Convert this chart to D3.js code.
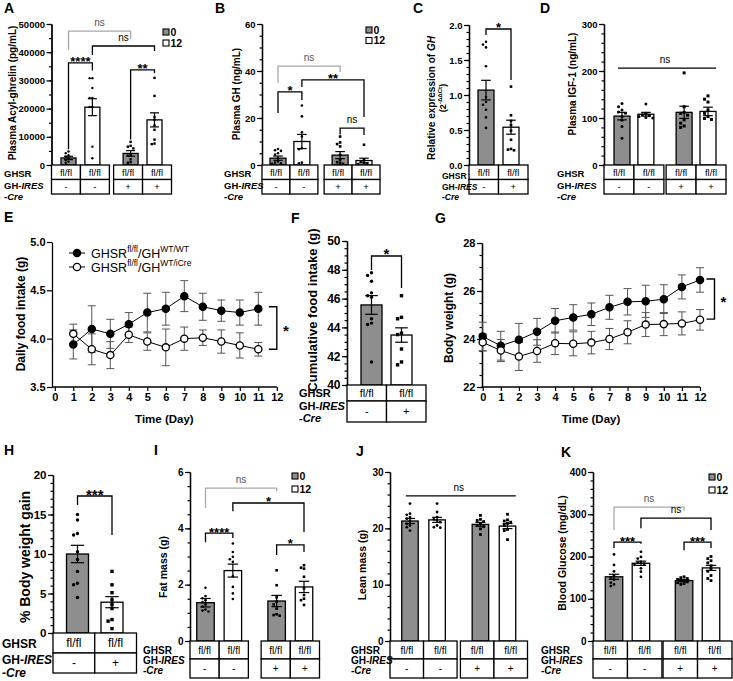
<!DOCTYPE html>
<html><head><meta charset="utf-8">
<script src="https://cdn.jsdelivr.net/npm/d3@7/dist/d3.min.js"></script>
<style>
html,body{margin:0;padding:0;background:#fff;}
svg{display:block;}
text{font-family:"Liberation Sans",Arial,Helvetica,sans-serif;fill:#000;}
</style></head>
<body>
<svg id="fig" width="733" height="681" viewBox="0 0 733 681"></svg>
<script>
// ======================= DATA =======================
const ghsrCells4 = ["fl/fl", "fl/fl", "fl/fl", "fl/fl"];
const creCells4 = ["-", "-", "+", "+"];
const ghsrCells2 = ["fl/fl", "fl/fl"];
const creCells2 = ["-", "+"];
const weekLegend = ["0", "12"];

// A: plasma acyl-ghrelin (pg/mL)
const acylMean = [2500, 20500, 4100, 16000];
const acylSem = [600, 3000, 1000, 2500];
const acylPts = [
  [4800, 4200, 3500, 2900, 2400, 1800, 1200, 800],
  [30800, 30800, 27300, 23800, 23800, 20600, 20600, 6500, 2400],
  [8200, 6800, 6500, 5900, 3500, 3300, 2000, 1000, 800],
  [30900, 24500, 17000, 16000, 14000, 12500, 9000, 7600, 7400]
];
// B: plasma GH (ng/mL)
const ghMean = [2.9, 10.0, 4.2, 1.9];
const ghSem = [0.9, 3.0, 1.5, 1.0];
const ghPts = [
  [6.8, 6.3, 6.0, 5.0, 4.4, 2.9, 1.5, 1.0, 0.7, 0.5],
  [25.3, 20.7, 13.9, 12.1, 7.1, 6.7, 1.0, 0.7],
  [12.1, 9.6, 8.9, 7.9, 4.3, 2.0, 1.2, 0.7, 0.5],
  [8.6, 2.4, 1.4, 1.0, 0.7, 0.4]
];
// C: relative GH expression
const exprMean = [1.07, 0.54];
const exprSem = [0.14, 0.10];
const exprPts = [
  [1.76, 1.72, 1.68, 1.41, 0.97, 0.90, 0.86, 0.79, 0.68, 0.53],
  [1.12, 0.71, 0.63, 0.57, 0.49, 0.36, 0.23, 0.22, 0.21]
];
// D: plasma IGF-1 (ng/mL)
const igfMean = [104, 108, 112, 114];
const igfSem = [8, 4, 13, 9];
const igfPts = [
  [131, 124, 117, 113, 110, 103, 95, 82, 57],
  [130, 110, 107, 105, 103, 101, 100],
  [196, 124, 112, 110, 106, 96, 89, 83, 80],
  [147, 140, 134, 117, 110, 103, 99, 97]
];
// E: daily food intake (g)
const foodDays = [1, 2, 3, 4, 5, 6, 7, 8, 9, 10, 11];
const foodWT = [3.94, 4.10, 4.05, 4.15, 4.27, 4.31, 4.44, 4.33, 4.29, 4.27, 4.31];
const foodWTsem = [0.15, 0.24, 0.15, 0.12, 0.20, 0.17, 0.16, 0.14, 0.11, 0.13, 0.17];
const foodCre = [4.05, 3.89, 3.83, 4.04, 3.97, 3.91, 4.00, 4.01, 3.97, 3.93, 3.89];
const foodCreSem = [0.10, 0.16, 0.14, 0.08, 0.09, 0.19, 0.12, 0.08, 0.12, 0.13, 0.07];
const dayTicks = [0, 1, 2, 3, 4, 5, 6, 7, 8, 9, 10, 11, 12];
// F: cumulative food intake (g)
const cumMean = [45.56, 43.47];
const cumSem = [0.65, 0.50];
const cumPts = [
  [47.8, 47.6, 47.2, 46.4, 46.2, 46.1, 44.6, 44.3, 44.2, 41.6],
  [46.2, 44.7, 44.6, 43.6, 43.5, 42.5, 41.6, 41.4]
];
// G: body weight (g)
const bwDays = [0, 1, 2, 3, 4, 5, 6, 7, 8, 9, 10, 11, 12];
const bwWT = [24.10, 23.72, 23.97, 24.30, 24.76, 24.90, 25.03, 25.32, 25.55, 25.57, 25.66, 26.17, 26.46];
const bwWTsem = [0.60, 0.60, 0.68, 0.56, 0.51, 0.53, 0.47, 0.50, 0.55, 0.67, 0.60, 0.50, 0.51];
const bwCre = [23.86, 23.52, 23.27, 23.50, 23.82, 23.80, 23.85, 24.00, 24.28, 24.60, 24.62, 24.65, 24.80];
const bwCreSem = [0.35, 0.46, 0.58, 0.47, 0.47, 0.50, 0.47, 0.44, 0.48, 0.50, 0.48, 0.48, 0.43];
// H: % body weight gain
const gainMean = [10.0, 3.9];
const gainSem = [1.1, 0.7];
const gainPts = [
  [15.0, 14.3, 12.6, 12.4, 10.3, 9.3, 7.8, 6.3, 6.1, 4.5],
  [7.8, 6.1, 5.1, 4.2, 3.6, 3.1, 1.7, 1.5, 0.55]
];
// I: fat mass (g)
const fatMean = [1.36, 2.50, 1.42, 1.92];
const fatSem = [0.15, 0.23, 0.20, 0.20];
const fatPts = [
  [1.89, 1.60, 1.52, 1.45, 1.38, 1.30, 1.22, 1.12, 1.08, 1.05],
  [3.46, 3.16, 2.99, 2.90, 2.81, 2.30, 1.92, 1.69, 1.49],
  [2.51, 1.98, 1.55, 1.40, 1.30, 1.15, 0.95, 0.92, 0.90],
  [2.69, 2.60, 2.57, 2.28, 1.87, 1.63, 1.50, 1.45, 1.28]
];
// J: lean mass (g)
const leanMean = [21.3, 21.5, 20.7, 20.4];
const leanSem = [0.45, 0.45, 0.35, 0.45];
const leanPts = [
  [24.4, 22.6, 22.4, 22.0, 21.7, 21.3, 20.8, 20.5, 20.2, 19.6],
  [24.4, 22.9, 22.0, 21.6, 21.4, 21.1, 20.5, 20.2, 20.1],
  [22.3, 21.6, 21.4, 21.2, 20.8, 20.5, 20.3, 19.9, 18.9],
  [22.5, 21.5, 21.3, 21.1, 20.9, 20.5, 19.8, 19.6, 18.0]
];
// K: blood glucose (mg/dL)
const gluMean = [152, 184, 143, 173];
const gluSem = [6, 5, 2.5, 6];
const gluPts = [
  [205, 180, 165, 155, 150, 145, 138, 134, 130],
  [211, 199, 195, 187, 185, 183, 180, 172, 164, 152],
  [152, 150, 148, 146, 144, 142, 140, 138, 136, 134],
  [200, 195, 190, 185, 178, 170, 165, 155, 148, 143]
];

// ======================= DRAWING =======================
const svg = d3.select("#fig");
const GRAY = "#8e8e8e";
const LGRAY = "#a8a8a8";

function rich(x, y, parts, o = {}) {
  const fs = o.fs || 10;
  const t = svg.append("text").attr("x", x).attr("y", y).attr("font-size", fs)
    .attr("text-anchor", o.anchor || "start");
  if (o.bold) t.attr("font-weight", "bold");
  if (o.fill) t.style("fill", o.fill);
  if (o.rotate) t.attr("transform", `rotate(-90,${x},${y})`);
  let shift = 0;
  parts.forEach(p => {
    const s = t.append("tspan").text(p.t);
    if (p.i) s.attr("font-style", "italic");
    const want = p.sup ? -fs * 0.42 : 0;
    if (want !== shift) { s.attr("dy", want - shift); shift = want; }
    if (p.sup) s.attr("font-size", fs * 0.68);
  });
  return t;
}
function txt(x, y, s, o = {}) { return rich(x, y, [{ t: s }], o); }

function styleAxis(g, fs) {
  g.selectAll("path.domain").attr("stroke", "#000").attr("stroke-width", 1.3);
  g.selectAll(".tick line").attr("stroke", "#000").attr("stroke-width", 1.2);
  g.selectAll(".tick text").attr("font-size", fs).attr("font-weight", "bold")
    .attr("font-family", '"Liberation Sans",Arial,sans-serif').style("fill", "#000");
  return g;
}

function yAxis(x, ys, domain, major, minor, fmt, fs) {
  const eps = 1e-9;
  if (minor) {
    const mv = d3.range(domain[0], domain[1] + eps, minor);
    styleAxis(svg.append("g").attr("transform", `translate(${x},0)`)
      .call(d3.axisLeft(ys).tickValues(mv).tickSize(2.5).tickSizeOuter(0).tickFormat("")), fs);
  }
  const Mv = d3.range(domain[0], domain[1] + major * 0.01, major);
  styleAxis(svg.append("g").attr("transform", `translate(${x},0)`)
    .call(d3.axisLeft(ys).tickValues(Mv).tickSize(5).tickSizeOuter(0).tickPadding(1.5).tickFormat(fmt)), fs);
}

function swarm(vals, ys, cx, r) {
  const placed = [];
  const offs = [0, -1, 1, -2, 2, -3, 3];
  return vals.map(v => {
    const y = ys(v);
    for (const o of offs) {
      const x = cx + o * r * 2.3;
      if (!placed.some(p => Math.hypot(p.x - x, p.y - y) < r * 2.2)) { placed.push({ x, y }); return { x, y }; }
    }
    placed.push({ x: cx, y }); return { x: cx, y };
  });
}

function barPanel(P) {
  const n = P.means.length;
  const ys = d3.scaleLinear().domain(P.domain).range([P.bottom, P.top]);
  const xs = d3.scaleLinear().domain([P.slots[0], P.slots[n - 1]]).range([P.c0, P.c1]);
  const cx = i => xs(P.slots[i]);
  const fills = n === 4 ? [GRAY, "#fff", GRAY, "#fff"] : [GRAY, "#fff"];
  const shapes = n === 4 ? ["c", "c", "s", "s"] : ["c", "s"];

  // bars
  svg.append("g").selectAll("rect").data(P.means).join("rect")
    .attr("x", (d, i) => cx(i) - P.bw / 2).attr("y", d => ys(d))
    .attr("width", P.bw).attr("height", d => ys(P.domain[0]) - ys(d))
    .attr("fill", (d, i) => fills[i]).attr("stroke", "#000").attr("stroke-width", 1.3);

  // points
  P.pts.forEach((arr, i) => {
    const pos = swarm(arr, ys, cx(i), P.ms);
    const g = svg.append("g");
    if (shapes[i] === "c") {
      g.selectAll("circle").data(pos).join("circle").attr("cx", d => d.x).attr("cy", d => d.y)
        .attr("r", P.ms).attr("fill", "#000");
    } else {
      g.selectAll("rect").data(pos).join("rect").attr("x", d => d.x - P.ms).attr("y", d => d.y - P.ms)
        .attr("width", P.ms * 2).attr("height", P.ms * 2).attr("fill", "#000");
    }
  });

  // error bars
  const eg = svg.append("g").attr("stroke", "#000").attr("stroke-width", 1.2);
  P.means.forEach((m, i) => {
    const s = P.sems[i], x = cx(i), cw = P.bw * 0.3;
    eg.append("line").attr("x1", x).attr("x2", x).attr("y1", ys(m - s)).attr("y2", ys(m + s));
    [m - s, m + s].forEach(v => eg.append("line").attr("x1", x - cw).attr("x2", x + cw).attr("y1", ys(v)).attr("y2", ys(v)));
  });

  // axis (drawn over bar bottoms)
  yAxis(P.axisX, ys, P.domain, P.major, P.minor, P.fmt, P.fs);

  // brackets
  (P.brackets || []).forEach(b => {
    const col = b.gray ? LGRAY : "#000";
    if (b.flat) {
      svg.append("line").attr("x1", cx(b.a) - P.bw / 4).attr("x2", cx(b.b) + P.bw / 2)
        .attr("y1", ys(b.y)).attr("y2", ys(b.y)).attr("stroke", col).attr("stroke-width", 1.3);
    } else {
      svg.append("path").attr("d", `M${cx(b.a)},${ys(b.la)}V${ys(b.y)}H${cx(b.b)}V${ys(b.lb)}`)
        .attr("fill", "none").attr("stroke", col).attr("stroke-width", 1.3);
    }
    const mx = (cx(b.a) + cx(b.b)) / 2;
    if (b.t === "ns") txt(mx, ys(b.y) - 5, "ns", { fs: P.nsFs || 10, anchor: "middle", fill: b.gray ? "#555" : "#000" });
    else txt(mx, ys(b.y) + 3.5, b.t, { fs: P.starFs || 13, anchor: "middle", bold: true });
  });

  // legend
  if (P.legend) {
    const L = P.legend;
    weekLegend.forEach((w, k) => {
      svg.append("rect").attr("x", L.x).attr("y", L.y + k * L.dy).attr("width", 6).attr("height", 6)
        .attr("fill", k === 0 ? GRAY : "#fff").attr("stroke", "#000").attr("stroke-width", 1.1);
      txt(L.x + 7.5, L.y + k * L.dy + 6.5, w, { fs: 10.5, bold: true });
    });
  }

  // table
  const T = P.table, y0 = P.bottom, y1 = y0 + T.h1;
  let cells;
  if (n === 4) {
    const m1 = (cx(0) + cx(1)) / 2, m2 = (cx(2) + cx(3)) / 2, W = 2 * (m1 - P.axisX);
    const g1 = [m1 - W / 2, m1 + W / 2], g2 = [m2 - W / 2, m2 + W / 2];
    cells = [[g1[0], m1], [m1, g1[1]], [g2[0], m2], [m2, g2[1]]];
  } else {
    const mid = (cx(0) + cx(1)) / 2;
    cells = [[P.axisX, mid], [mid, 2 * mid - P.axisX]];
  }
  const gh = n === 4 ? ghsrCells4 : ghsrCells2, cr = n === 4 ? creCells4 : creCells2;
  const tg = svg.append("g").attr("fill", "#fff").attr("stroke", "#000").attr("stroke-width", 1.3);
  cells.forEach((c, i) => {
    tg.append("rect").attr("x", c[0]).attr("y", y0).attr("width", c[1] - c[0]).attr("height", T.h1);
    tg.append("rect").attr("x", c[0]).attr("y", y1).attr("width", c[1] - c[0]).attr("height", T.h2);
    txt((c[0] + c[1]) / 2, y0 + T.h1 / 2 + T.cfs * 0.36, gh[i], { fs: T.cfs, anchor: "middle" });
    txt((c[0] + c[1]) / 2, y1 + T.h2 / 2 + T.cfs * 0.36, cr[i], { fs: T.cfs, anchor: "middle" });
  });
  txt(T.lx, y0 + T.h1 / 2 + T.lfs * (T.gs || 0.4), "GHSR", { fs: T.lfs, bold: true });
  rich(T.lx, y1 + T.gy, [{ t: "GH-" }, { t: "IRES", i: true }], { fs: T.lfs, bold: true });
  rich(T.lx, y1 + T.cy, [{ t: "-Cre", i: true }], { fs: T.lfs, bold: true });

  // y label
  P.ylab.forEach(l => rich(l.x, l.y, l.parts, { fs: l.fs, bold: true, anchor: "middle", rotate: true }));
  // panel letter
  txt(P.letter[1], P.letter[2], P.letter[0], { fs: 14, bold: true });
}

function linePanel(P) {
  const xs = d3.scaleLinear().domain([0, 12]).range([P.x0, P.x1]);
  const ys = d3.scaleLinear().domain(P.domain).range([P.bottom, P.top]);
  yAxis(P.axisX, ys, P.domain, P.major, P.minor, P.fmt, P.fs);
  const xg = svg.append("g").attr("transform", `translate(0,${P.bottom})`)
    .call(d3.axisBottom(xs).tickValues(dayTicks).tickSize(4).tickSizeOuter(0).tickPadding(2).tickFormat(d3.format("d")));
  styleAxis(xg, P.fs);
  xg.select("path.domain").attr("d", `M${P.axisX},0H${P.x1}`);
  txt((P.axisX + P.x1) / 2, P.bottom + 36, "Time (Day)", { fs: 11.5, bold: true, anchor: "middle" });

  const series = [
    { x: P.days, y: P.wt, s: P.wtSem, fill: "#000" },
    { x: P.days, y: P.cre, s: P.creSem, fill: "#fff" }
  ];
  const line = d3.line().x(d => xs(d[0])).y(d => ys(d[1]));
  series.forEach(S => {
    svg.append("path").datum(S.x.map((d, i) => [d, S.y[i]])).attr("d", line)
      .attr("fill", "none").attr("stroke", "#000").attr("stroke-width", 1);
  });
  series.forEach(S => {
    const g = svg.append("g").attr("stroke", "#555").attr("stroke-width", 1);
    S.x.forEach((d, i) => {
      const x = xs(d), lo = ys(S.y[i] - S.s[i]), hi = ys(S.y[i] + S.s[i]);
      g.append("line").attr("x1", x).attr("x2", x).attr("y1", lo).attr("y2", hi);
      g.append("line").attr("x1", x - 4).attr("x2", x + 4).attr("y1", lo).attr("y2", lo);
      g.append("line").attr("x1", x - 4).attr("x2", x + 4).attr("y1", hi).attr("y2", hi);
    });
  });
  series.forEach(S => {
    svg.append("g").selectAll("circle").data(S.x.map((d, i) => [d, S.y[i]])).join("circle")
      .attr("cx", d => xs(d[0])).attr("cy", d => ys(d[1])).attr("r", 3.6)
      .attr("fill", S.fill).attr("stroke", "#000").attr("stroke-width", 1.3);
  });
  // significance bracket
  const B = P.bracket, bx = xs(B.x);
  svg.append("path").attr("d", `M${bx - 8},${ys(B.y1)}H${bx}V${ys(B.y2)}H${bx - 8}`)
    .attr("fill", "none").attr("stroke", "#000").attr("stroke-width", 1.4);
  txt(bx + 9, (ys(B.y1) + ys(B.y2)) / 2 + 8, "*", { fs: 15, bold: true, anchor: "middle" });

  if (P.legend) {
    const L = P.legend;
    const names = [
      [{ t: "GHSR" }, { t: "fl/fl", sup: true }, { t: "/GH" }, { t: "WT/WT", sup: true }],
      [{ t: "GHSR" }, { t: "fl/fl", sup: true }, { t: "/GH" }, { t: "WT/iCre", sup: true }]
    ];
    names.forEach((nm, k) => {
      const y = L.y + k * L.dy;
      svg.append("line").attr("x1", L.x - 8).attr("x2", L.x + 8).attr("y1", y).attr("y2", y).attr("stroke", "#000").attr("stroke-width", 1);
      svg.append("circle").attr("cx", L.x).attr("cy", y).attr("r", 3.6).attr("fill", k === 0 ? "#000" : "#fff")
        .attr("stroke", "#000").attr("stroke-width", 1.3);
      rich(L.x + 14, y + 4.5, nm, { fs: 12.5 });
    });
  }
  P.ylab.forEach(l => rich(l.x, l.y, l.parts, { fs: l.fs, bold: true, anchor: "middle", rotate: true }));
  txt(P.letter[1], P.letter[2], P.letter[0], { fs: 14, bold: true });
}

const S4 = [0, 1, 2.6, 3.6], S2 = [0, 1];
const fmtD = d3.format("d");
const TAB_TOP = { h1: 14.5, h2: 14.5, lfs: 9.5, cfs: 9.5, gy: 9, cy: 20, gs: 0.55 };
const TAB_BOT = { h1: 18, h2: 19, lfs: 10, cfs: 10, gy: 4.5, cy: 14.5 };

// ---- A ----
barPanel({
  letter: ["A", 4, 13], axisX: 51.5, top: 24, bottom: 165, domain: [0, 50000], major: 10000, minor: 5000, fmt: fmtD, fs: 9.5,
  c0: 68.5, c1: 154.5, slots: S4, bw: 15, ms: 1.2,
  means: acylMean, sems: acylSem, pts: acylPts,
  brackets: [
    { a: 0, b: 2, y: 47500, la: 40800, lb: 44700, t: "ns", gray: true },
    { a: 1, b: 3, y: 42200, la: 39000, lb: 40400, t: "ns" },
    { a: 0, b: 1, y: 36200, la: 5600, lb: 33500, t: "****" },
    { a: 2, b: 3, y: 33700, la: 9000, lb: 32600, t: "**" }
  ],
  legend: { x: 163, y: 29, dy: 11 },
  table: Object.assign({ lx: 4 }, TAB_TOP),
  ylab: [{ x: 15.5, y: 93, fs: 10, parts: [{ t: "Plasma Acyl-ghrelin (pg/mL)" }] }]
});
// ---- B ----
barPanel({
  letter: ["B", 215, 13], axisX: 262, top: 24, bottom: 165, domain: [0, 60], major: 20, minor: 5, fmt: fmtD, fs: 9.5,
  c0: 278, c1: 364, slots: S4, bw: 16, ms: 1.3,
  means: ghMean, sems: ghSem, pts: ghPts,
  brackets: [
    { a: 0, b: 2, y: 42.1, la: 34.9, lb: 39.6, t: "ns", gray: true },
    { a: 1, b: 3, y: 36.2, la: 33.2, lb: 20.4, t: "**" },
    { a: 0, b: 1, y: 31.1, la: 22.1, lb: 27.7, t: "*" },
    { a: 2, b: 3, y: 15.7, la: 13.0, lb: 12.8, t: "ns" }
  ],
  legend: { x: 366, y: 27, dy: 10.5 },
  table: Object.assign({ lx: 224 }, TAB_TOP),
  ylab: [{ x: 240, y: 94, fs: 10, parts: [{ t: "Plasma GH (ng/mL)" }] }]
});
// ---- C ----
barPanel({
  letter: ["C", 413, 13], axisX: 469, top: 25, bottom: 165, domain: [0, 2], major: 0.5, minor: 0.1, fmt: d3.format(".1f"), fs: 9.5,
  c0: 486, c1: 511, slots: S2, bw: 16, ms: 1.3,
  means: exprMean, sems: exprSem, pts: exprPts,
  brackets: [{ a: 0, b: 1, y: 1.943, la: 1.857, lb: 1.214, t: "*" }],
  table: Object.assign({ lx: 442 }, TAB_TOP, { lfs: 8.5, gs: 0.8, gy: 10, cy: 20 }),
  ylab: [
    { x: 435, y: 98, fs: 10, parts: [{ t: "Relative expression of " }, { t: "GH", i: true }] },
    { x: 445.5, y: 98, fs: 9, parts: [{ t: "(2" }, { t: "-\u0394\u0394Ct", sup: true }, { t: ")" }] }
  ]
});
// ---- D ----
barPanel({
  letter: ["D", 540, 13], axisX: 604, top: 24, bottom: 165, domain: [0, 300], major: 100, minor: 20, fmt: fmtD, fs: 9.5,
  c0: 622, c1: 708, slots: S4, bw: 16, ms: 1.5,
  means: igfMean, sems: igfSem, pts: igfPts,
  brackets: [{ a: 0, b: 3, y: 206, t: "ns", flat: true }],
  table: Object.assign({ lx: 557 }, TAB_TOP),
  ylab: [{ x: 576, y: 84, fs: 10, parts: [{ t: "Plasma IGF-1 (ng/mL)" }] }]
});
// ---- E ----
linePanel({
  letter: ["E", 4, 222], axisX: 52, top: 242, bottom: 387, domain: [3.5, 5.0], major: 0.5, minor: null,
  fmt: d3.format(".1f"), fs: 11, x0: 54.8, x1: 276.8,
  days: foodDays, wt: foodWT, wtSem: foodWTsem, cre: foodCre, creSem: foodCreSem,
  bracket: { x: 12, y1: 4.33, y2: 3.89 },
  legend: { x: 77, y: 253, dy: 14 },
  ylab: [{ x: 25, y: 314, fs: 12, parts: [{ t: "Daily food intake (g)" }] }]
});
// ---- F ----
barPanel({
  letter: ["F", 291, 223], axisX: 347, top: 241, bottom: 385, domain: [40, 50], major: 2, minor: 0.5, fmt: fmtD, fs: 12,
  c0: 371.5, c1: 401.5, slots: S2, bw: 21, ms: 1.7,
  means: cumMean, sems: cumSem, pts: cumPts, starFs: 15,
  brackets: [{ a: 0, b: 1, y: 48.96, la: 47.99, lb: 46.74, t: "*" }],
  table: { h1: 16, h2: 21, lx: 299, lfs: 11, cfs: 11, gy: 8.5, cy: 21 },
  ylab: [{ x: 316.5, y: 310, fs: 13, parts: [{ t: "Cumulative food intake (g)" }] }]
});
// ---- G ----
linePanel({
  letter: ["G", 435, 223], axisX: 482, top: 243, bottom: 387, domain: [22, 28], major: 2, minor: 0.5,
  fmt: fmtD, fs: 11, x0: 482.7, x1: 700,
  days: bwDays, wt: bwWT, wtSem: bwWTsem, cre: bwCre, creSem: bwCreSem,
  bracket: { x: 12.8, y1: 26.5, y2: 24.83 },
  ylab: [{ x: 453, y: 318, fs: 12, parts: [{ t: "Body weight  (g)" }] }]
});
// ---- H ----
barPanel({
  letter: ["H", 4, 455], axisX: 53, top: 475, bottom: 633, domain: [0, 20], major: 5, minor: 1, fmt: fmtD, fs: 11.5,
  c0: 77.5, c1: 112, slots: S2, bw: 22, ms: 1.7,
  means: gainMean, sems: gainSem, pts: gainPts, starFs: 15,
  brackets: [{ a: 0, b: 1, y: 17.34, la: 16.2, lb: 12.4, t: "***" }],
  table: { h1: 20, h2: 20, lx: 2, lfs: 12, cfs: 12, gy: 10.5, cy: 23.5 },
  ylab: [{ x: 30, y: 557, fs: 14, parts: [{ t: "% Body weight gain" }] }]
});
// ---- I ----
barPanel({
  letter: ["I", 154, 455], axisX: 190, top: 472, bottom: 641, domain: [0, 6], major: 2, minor: 0.5, fmt: fmtD, fs: 10,
  c0: 205.5, c1: 304, slots: S4, bw: 17.5, ms: 1.3,
  means: fatMean, sems: fatSem, pts: fatPts,
  brackets: [
    { a: 0, b: 2, y: 5.43, la: 4.72, lb: 5.32, t: "ns", gray: true },
    { a: 1, b: 3, y: 4.90, la: 4.61, lb: 3.87, t: "*" },
    { a: 0, b: 1, y: 3.83, la: 3.51, lb: 3.66, t: "****" },
    { a: 2, b: 3, y: 3.41, la: 3.05, lb: 3.16, t: "*" }
  ],
  legend: { x: 292, y: 473, dy: 13 },
  table: Object.assign({ lx: 143 }, TAB_BOT),
  ylab: [{ x: 166.5, y: 567, fs: 10.5, parts: [{ t: "Fat mass (g)" }] }]
});
// ---- J ----
barPanel({
  letter: ["J", 356, 456], axisX: 390, top: 472, bottom: 641, domain: [0, 30], major: 10, minor: 2, fmt: fmtD, fs: 10,
  c0: 410, c1: 507.5, slots: S4, bw: 16.5, ms: 1.4,
  means: leanMean, sems: leanSem, pts: leanPts,
  brackets: [{ a: 0, b: 3, y: 25.75, t: "ns", flat: true }],
  table: Object.assign({ lx: 351 }, TAB_BOT),
  ylab: [{ x: 365.5, y: 565, fs: 10.5, parts: [{ t: "Lean mass (g)" }] }]
});
// ---- K ----
barPanel({
  letter: ["K", 561, 457], axisX: 593, top: 472, bottom: 641, domain: [0, 400], major: 100, minor: 20, fmt: fmtD, fs: 10,
  c0: 614, c1: 711, slots: S4, bw: 17.5, ms: 1.4,
  means: gluMean, sems: gluSem, pts: gluPts,
  brackets: [
    { a: 0, b: 2, y: 317, la: 263, lb: 308, t: "ns", gray: true },
    { a: 1, b: 3, y: 291, la: 267, lb: 263, t: "ns" },
    { a: 0, b: 1, y: 234, la: 220, lb: 230, t: "***" },
    { a: 2, b: 3, y: 234, la: 215, lb: 220, t: "***" }
  ],
  legend: { x: 709, y: 474, dy: 13 },
  table: Object.assign({ lx: 541 }, TAB_BOT),
  ylab: [{ x: 565.5, y: 553, fs: 10.5, parts: [{ t: "Blood Glucose (mg/dL)" }] }]
});
</script>
</body></html>
